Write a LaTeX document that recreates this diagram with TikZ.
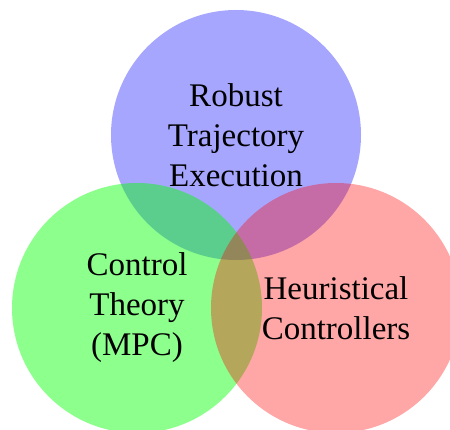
\documentclass[tikz,border=0pt]{standalone}
\usepackage{fontspec}
\setmainfont{Liberation Serif}
\begin{document}
\begin{tikzpicture}[x=1pt,y=-1pt,
  setcircle/.style={circle, minimum size=250pt, inner sep=0pt, fill opacity=#1, draw=none},
  setlabel/.style={align=center, text=black, font=\fontsize{33}{40}\selectfont, text opacity=1}]
  \useasboundingbox (0,0) rectangle (450,430);
  % three overlapping sets
  \node[setcircle=0.35, fill=blue]  (robust)  at (236,135) {};
  \node[setcircle=0.45, fill=green] (control) at (137,308) {};
  \node[setcircle=0.35, fill=red]   (heur)    at (336,308) {};
  % set names
  \node[setlabel] (robustlbl)  at (robust.center)  {Robust\\Trajectory\\Execution};
  \node[setlabel] (controllbl) at (control.center) {Control\\Theory\\(MPC)};
  \node[setlabel] (heurlbl)    at (heur.center)    {Heuristical\\Controllers};
\end{tikzpicture}
\end{document}
